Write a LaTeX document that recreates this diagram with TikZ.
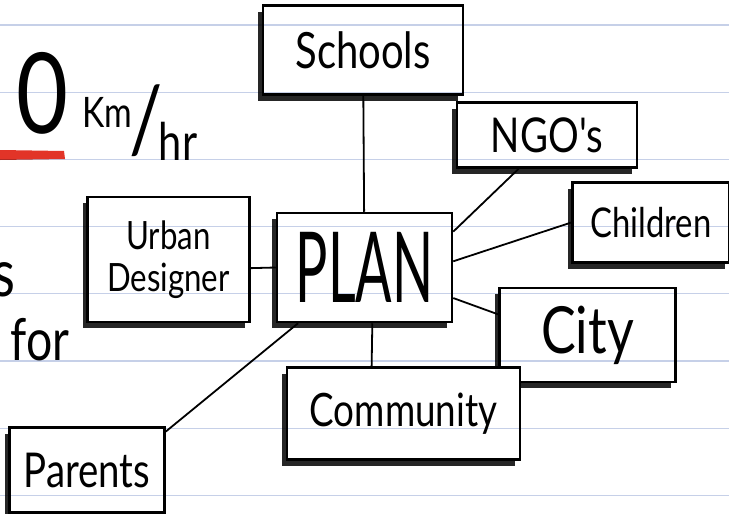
\documentclass[tikz,border=0pt]{standalone}
\usepackage{fontspec}
\newfontfamily\hand{Lato}[FakeStretch=0.8]
\newfontfamily\handtall{Lato}[FakeStretch=0.55]
\usetikzlibrary{
  positioning,
  shadows
}
\definecolor{ruling}{RGB}{198,208,232}
\definecolor{marker}{RGB}{226,52,40}

\begin{document}
\begin{tikzpicture}[x=1pt, y=-1pt, every node/.style={font=\hand},
  topic/.style={draw, line width=2.5pt, fill=white, inner sep=0pt, align=center, drop shadow={shadow xshift=-5pt, shadow yshift=-6pt, opacity=1, fill=black!85}},
  scrawl/.style={inner sep=0pt},
  link/.style={line width=1.8pt}
]
\fill[white] (0,0) rectangle (729,514);
\useasboundingbox (0,0) rectangle (729,514);
\clip (0,0) rectangle (729,514);

% Notes on the left edge
\node[scrawl, anchor=base, font=\hand\fontsize{112}{112}\selectfont] (zero) at (42,133) {0};
\node[scrawl, anchor=base, font=\hand\fontsize{42}{42}\selectfont] (km) at (107,127) {Km};
\node[scrawl, font=\hand\fontsize{92}{92}\selectfont] (slash) at (146,121) {/};
\node[scrawl, anchor=base, font=\hand\fontsize{52}{52}\selectfont] (hr) at (178,160) {hr};
\fill[marker] (0,150) -- (64,151) -- (65,159) -- (0,160) -- cycle;
\node[scrawl, anchor=base east, font=\hand\fontsize{66}{66}\selectfont] (ess) at (16,296) {s};
\node[scrawl, anchor=base, font=\hand\fontsize{58}{58}\selectfont] (for) at (40,360) {for};

% Mind map
\node[topic, minimum width=175pt, minimum height=109pt, font=\handtall\fontsize{98}{98}\selectfont] (plan) at (364.5,267.5) {PLAN};
\node[topic, above=116pt of plan, xshift=-1.5pt, minimum width=200pt, minimum height=89pt, font=\hand\fontsize{50}{50}\selectfont] (schools) {Schools};
\node[topic, above=43pt of plan, xshift=182.5pt, minimum width=180pt, minimum height=65pt, font=\hand\fontsize{48}{48}\selectfont] (ngos) {NGO's};
\node[topic, right=118pt of plan, yshift=45pt, minimum width=157pt, minimum height=80pt, font=\hand\fontsize{41}{41}\selectfont] (children) {Children};
\node[topic, right=45pt of plan, yshift=-67.5pt, minimum width=176pt, minimum height=94pt, font=\hand\fontsize{65}{65}\selectfont] (city) {City};
\node[topic, below=43pt of plan, xshift=39pt, minimum width=233pt, minimum height=92pt, font=\hand\fontsize{46}{46}\selectfont] (community) {Community};
\node[topic, left=25pt of plan, yshift=8pt, minimum width=162pt, minimum height=125pt, font=\hand\fontsize{39}{42}\selectfont] (urban) {Urban\\Designer};
\node[topic, below left=103pt and 110pt of plan, minimum width=155pt, minimum height=85pt, font=\hand\fontsize{48}{48}\selectfont] (parents) {Parents};

% Links
\draw[link] (schools) -- (plan);
\draw[link] (ngos.230) -- (plan.22);
\draw[link] (children.west) -- (plan.4);
\draw[link] (city.167) -- (plan.-19);
\draw[link] (community.124) -- (plan.-82);
\draw[link] (urban.-6) -- (plan.west);
\draw[link] (parents.26) -- (plan.220);

% Ruled paper
\begin{scope}[blend mode=multiply]
\foreach \k in {0,...,7}
  \draw[ruling, line width=1.1pt] (0,{25+67.2*\k}) -- (729,{25+67.2*\k});
\end{scope}
\end{tikzpicture}
\end{document}
